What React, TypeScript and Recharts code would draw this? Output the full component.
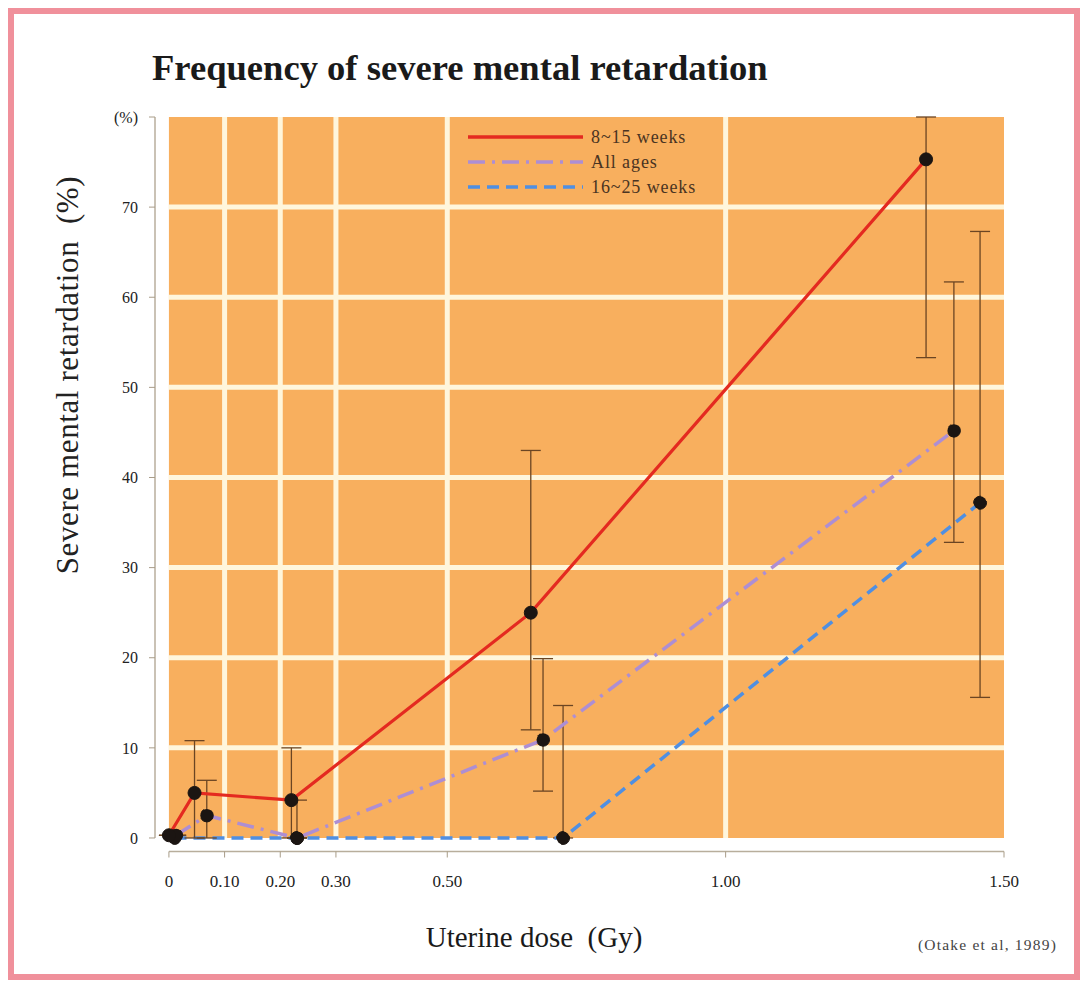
import React from 'react';
import {
  ComposedChart,
  Line,
  XAxis,
  YAxis,
  ErrorBar,
  ReferenceArea,
  ReferenceLine,
  Legend,
} from 'recharts';

// ---------- data ----------
const seriesNames = ['8~15 weeks', 'All ages', '16~25 weeks'];

const earlyDose = [0, 0.046, 0.22, 0.65, 1.36];
const earlyRate = [0.3, 5.0, 4.2, 25.0, 75.3];
const earlyLow = [0.3, 0, 0, 12.0, 53.3];
const earlyHigh = [0.3, 10.8, 10.0, 43.0, 80];

const allDose = [0.013, 0.068, 0.23, 0.672, 1.41];
const allRate = [0.3, 2.5, 0, 10.9, 45.2];
const allLow = [0.3, 0, 0, 5.2, 32.8];
const allHigh = [0.3, 6.4, 0, 19.9, 61.7];

const lateDose = [0.01, 0.23, 0.708, 1.457];
const lateRate = [0, 0, 0, 37.2];
const lateLow = [0, 0, 0, 15.6];
const lateHigh = [0, 4.2, 14.7, 67.3];

const xTicks = [0, 0.1, 0.2, 0.3, 0.5, 1.0, 1.5];
const xTickLabels = ['0', '0.10', '0.20', '0.30', '0.50', '1.00', '1.50'];
const yTicks = [0, 10, 20, 30, 40, 50, 60, 70, 80];
const yTickLabels = ['0', '10', '20', '30', '40', '50', '60', '70', '(%)'];
const gridX = [0.1, 0.2, 0.3, 0.5, 1.0];
const gridY = [10, 20, 30, 40, 50, 60, 70];

// ---------- styles ----------
const SERIF = '"Liberation Serif", "DejaVu Serif", "Times New Roman", serif';
const RED = '#e42a20';
const PURPLE = '#ad8ed3';
const BLUE = '#4f8fe2';
const ORANGE = '#f8af5e';
const CREAM = '#fff6dc';
const BAR = '#6b4523';
const DOT = '#1b1512';

const build = (d: number[], r: number[], lo: number[], hi: number[]) =>
  d.map((x, i) => ({ x, v: r[i], err: [r[i] - lo[i], hi[i] - r[i]] }));

const earlyData = build(earlyDose, earlyRate, earlyLow, earlyHigh);
const allData = build(allDose, allRate, allLow, allHigh);
const lateData = build(lateDose, lateRate, lateLow, lateHigh);

const legendStyles = [
  { color: RED, dash: undefined as string | undefined },
  { color: PURPLE, dash: '17 7 3 7' },
  { color: BLUE, dash: '12 7' },
];

const renderLegend = () => (
  <svg width={320} height={80} style={{ overflow: 'visible' }}>
    {seriesNames.map((n, i) => {
      const y = 7 + i * 25;
      return (
        <g key={n}>
          <line
            x1={0}
            x2={115}
            y1={y}
            y2={y}
            stroke={legendStyles[i].color}
            strokeWidth={3.5}
            strokeDasharray={legendStyles[i].dash}
          />
          <text
            x={123}
            y={y}
            dy="0.35em"
            fontSize={18}
            letterSpacing={0.9}
            fontFamily={SERIF}
            fill="#4a3422"
          >
            {n}
          </text>
        </g>
      );
    })}
  </svg>
);

const dotStyle = { r: 6.5, fill: DOT, stroke: DOT, strokeWidth: 1 };

export default function App() {
  return (
    <div
      style={{
        position: 'relative',
        width: 1072,
        height: 972,
        boxSizing: 'border-box',
        border: '6px solid #f0909b',
        background: '#ffffff',
        fontFamily: SERIF,
      }}
    >
      <div style={{ position: 'absolute', left: -6, top: -6 }}>
        <ComposedChart
          width={1072}
          height={972}
          margin={{ top: 109, right: 76, bottom: 68.5, left: 87 }}
        >
          <XAxis
            dataKey="x"
            type="number"
            domain={[-0.025, 1.5]}
            ticks={xTicks}
            allowDataOverflow
            tickFormatter={(v: number) => xTickLabels[xTicks.indexOf(v)] ?? String(v)}
            height={60}
            axisLine={false}
            tickLine={{ stroke: '#a89c88' }}
            tickSize={6}
            tickMargin={17}
            tick={{ fill: '#222', fontSize: 17, fontFamily: SERIF }}
          />
          <YAxis
            type="number"
            domain={[-1.5, 80]}
            ticks={yTicks}
            allowDataOverflow
            tickFormatter={(v: number) => yTickLabels[yTicks.indexOf(v)] ?? String(v)}
            width={60}
            axisLine={false}
            tickLine={{ stroke: '#a89c88' }}
            tickSize={6}
            tickMargin={11}
            tick={{ fill: '#222', fontSize: 16, fontFamily: SERIF }}
          />
          <ReferenceArea
            x1={0}
            x2={1.5}
            y1={0}
            y2={80}
            fill={ORANGE}
            fillOpacity={1}
            stroke="none"
          />
          {gridX.map((g) => (
            <ReferenceLine
              key={'gx' + g}
              segment={[
                { x: g, y: 0 },
                { x: g, y: 80 },
              ]}
              stroke={CREAM}
              strokeWidth={5}
            />
          ))}
          {gridY.map((g) => (
            <ReferenceLine
              key={'gy' + g}
              segment={[
                { x: 0, y: g },
                { x: 1.5, y: g },
              ]}
              stroke={CREAM}
              strokeWidth={5}
            />
          ))}
          <ReferenceLine
            segment={[
              { x: 0, y: -1.5 },
              { x: 1.5, y: -1.5 },
            ]}
            stroke="#b8ae9c"
            strokeWidth={1.5}
          />
          <ReferenceLine
            segment={[
              { x: -0.025, y: 0 },
              { x: -0.025, y: 80 },
            ]}
            stroke="#b8ae9c"
            strokeWidth={1.5}
          />
          <Line
            data={lateData}
            dataKey="v"
            name={seriesNames[2]}
            stroke={BLUE}
            strokeWidth={3.5}
            strokeDasharray="12 7"
            dot={dotStyle}
            activeDot={false}
            isAnimationActive={false}
          >
            <ErrorBar dataKey="err" direction="y" width={10} stroke={BAR} strokeWidth={1.3} />
          </Line>
          <Line
            data={allData}
            dataKey="v"
            name={seriesNames[1]}
            stroke={PURPLE}
            strokeWidth={3.5}
            strokeDasharray="17 7 3 7"
            dot={dotStyle}
            activeDot={false}
            isAnimationActive={false}
          >
            <ErrorBar dataKey="err" direction="y" width={10} stroke={BAR} strokeWidth={1.3} />
          </Line>
          <Line
            data={earlyData}
            dataKey="v"
            name={seriesNames[0]}
            stroke={RED}
            strokeWidth={3.2}
            dot={dotStyle}
            activeDot={false}
            isAnimationActive={false}
          >
            <ErrorBar dataKey="err" direction="y" width={10} stroke={BAR} strokeWidth={1.3} />
          </Line>
          <Legend
            layout="vertical"
            align="center"
            verticalAlign="middle"
            wrapperStyle={{ position: 'absolute', left: 460, top: 122, width: 320, height: 80 }}
            content={renderLegend}
          />
        </ComposedChart>
      </div>

      <div
        style={{
          position: 'absolute',
          left: 138,
          top: 35,
          fontSize: 36.6,
          lineHeight: '37px',
          fontWeight: 'bold',
          color: '#1a1a1a',
          whiteSpace: 'nowrap',
        }}
      >
        Frequency of severe mental retardation
      </div>

      <div
        style={{
          position: 'absolute',
          left: -176,
          top: 344,
          width: 460,
          height: 34,
          lineHeight: '34px',
          textAlign: 'center',
          fontSize: 31,
          letterSpacing: 0.6,
          color: '#222',
          whiteSpace: 'pre',
          transform: 'rotate(-90deg)',
        }}
      >
        {'Severe mental retardation  (%)'}
      </div>

      <div
        style={{
          position: 'absolute',
          left: 360,
          top: 906,
          width: 320,
          height: 34,
          lineHeight: '34px',
          textAlign: 'center',
          fontSize: 29,
          color: '#1a1a1a',
          whiteSpace: 'pre',
        }}
      >
        {'Uterine dose  (Gy)'}
      </div>

      <div
        style={{
          position: 'absolute',
          left: 904,
          top: 923,
          fontSize: 15.5,
          letterSpacing: 1.2,
          lineHeight: '16px',
          color: '#444',
          whiteSpace: 'nowrap',
        }}
      >
        (Otake et al, 1989)
      </div>
    </div>
  );
}
